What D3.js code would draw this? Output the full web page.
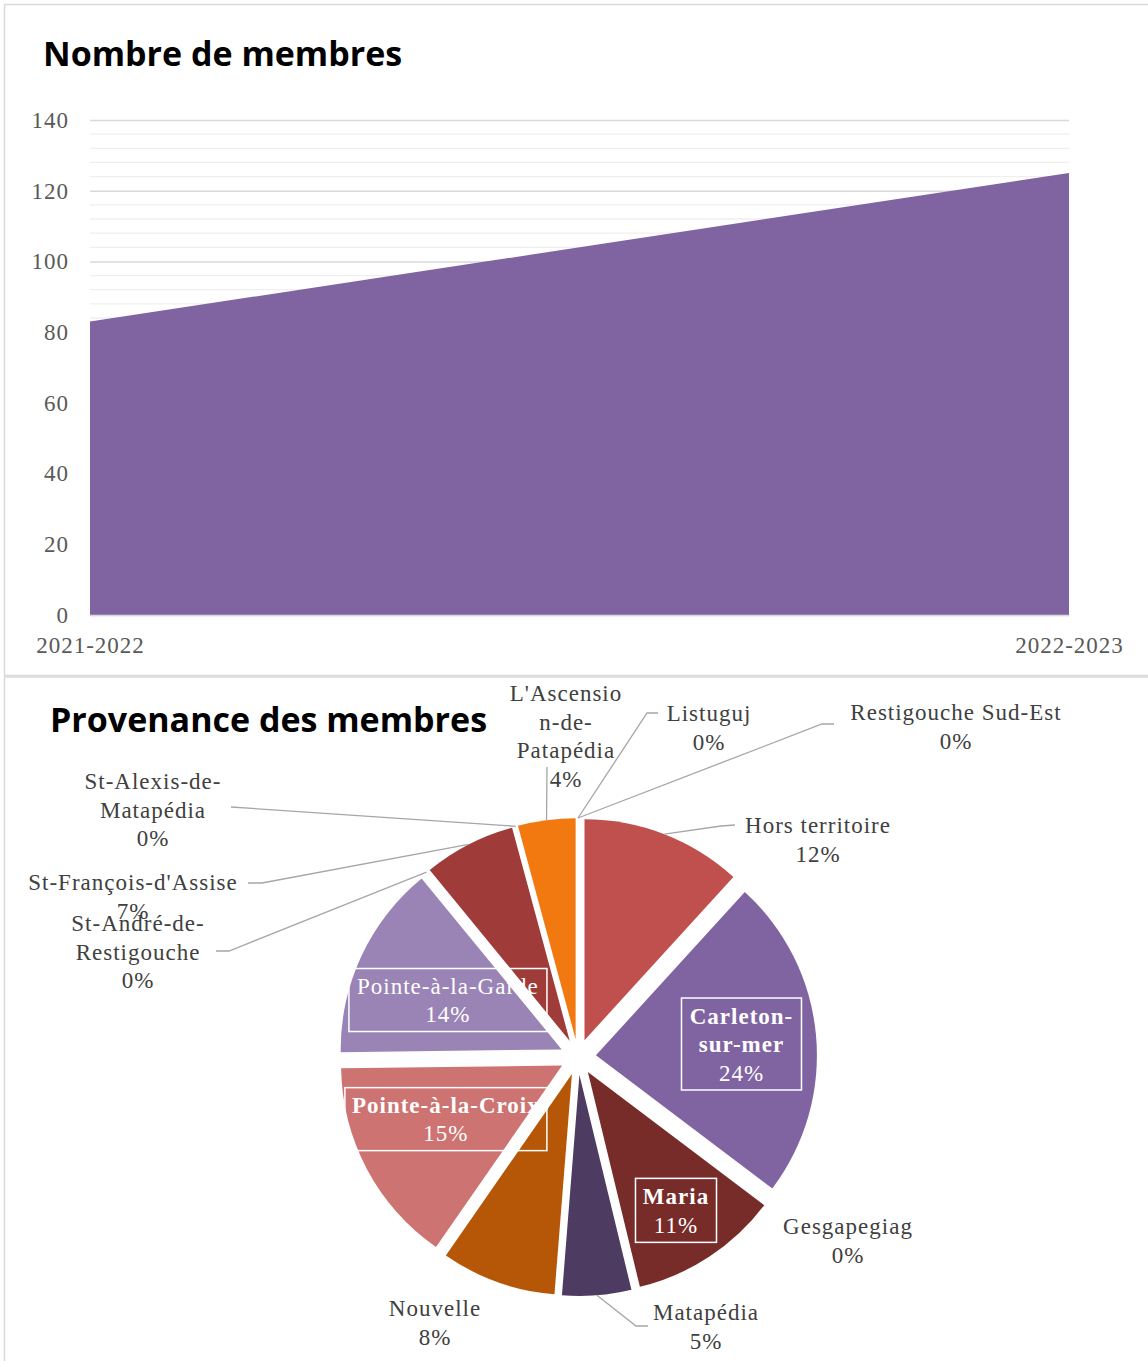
<!DOCTYPE html>
<html><head><meta charset="utf-8">
<script src="https://cdn.jsdelivr.net/npm/d3@7"></script>
<style>
html,body{margin:0;padding:0;background:#fff;}
svg{display:block;}
</style></head>
<body>
<svg id="c" width="1148" height="1361"></svg>
<script>
// ---- Data ----
const years = ["2021-2022", "2022-2023"];
const members = [83, 125];
const yTicks = [0, 20, 40, 60, 80, 100, 120, 140];

const communities = ["Hors territoire", "Carleton-sur-mer", "Gesgapegiag", "Maria", "Matapédia",
  "Nouvelle", "Pointe-à-la-Croix", "Pointe-à-la-Garde", "St-André-de-Restigouche",
  "St-François-d'Assise", "St-Alexis-de-Matapédia", "L'Ascension-de-Patapédia", "Listuguj", "Restigouche Sud-Est"];
const counts = [14, 28, 0, 13, 6, 10, 18, 17, 0, 8, 0, 5, 0, 0];
const sliceColors = ["#c0504d", "#8064a2", "#4f81bd", "#772c2a", "#4d3b62", "#b65708", "#cd7371",
  "#9a84b6", "#9bbb59", "#9f3b38", "#4bacc6", "#f2790f", "#f79646", "#2c4d75"];

const svg = d3.select("#c");
const serif = "'Liberation Serif', 'DejaVu Serif', serif";
const sans = "'Open Sans', 'DejaVu Sans', sans-serif";
const FS = 23, LS = 1;

// panel borders
svg.append("rect").attr("x", 4.5).attr("y", 4.5).attr("width", 1160).attr("height", 671)
  .attr("fill", "none").attr("stroke", "#d9d9d9").attr("stroke-width", 1.5);
svg.append("rect").attr("x", 4.5).attr("y", 677).attr("width", 1160).attr("height", 700)
  .attr("fill", "none").attr("stroke", "#d9d9d9").attr("stroke-width", 1.5);

// ---- Area chart ----
const x = d3.scalePoint().domain(years).range([90, 1069]);
const y = d3.scaleLinear().domain([0, 140]).range([615, 120]);

svg.append("text").attr("x", 43).attr("y", 66).text("Nombre de membres")
  .attr("font-family", sans).attr("font-weight", 700).attr("font-size", 34).attr("fill", "#000");

const minor = d3.range(0, 141, 4).filter(v => v % 20 !== 0);
svg.append("g").selectAll("line").data(minor).join("line")
  .attr("x1", 90).attr("x2", 1069).attr("y1", d => y(d)).attr("y2", d => y(d))
  .attr("stroke", "#efefef").attr("stroke-width", 1.3);

const yAxis = svg.append("g").attr("transform", "translate(90,0)")
  .call(d3.axisLeft(y).tickValues(yTicks).tickSize(-979).tickPadding(21));
yAxis.select(".domain").remove();
yAxis.selectAll(".tick line").attr("stroke", "#d9d9d9").attr("stroke-width", 1.5);
yAxis.selectAll(".tick text").attr("font-family", serif).attr("font-size", FS)
  .attr("letter-spacing", LS).attr("fill", "#595959");

const area = d3.area().x((d, i) => x(years[i])).y0(y(0)).y1(d => y(d));
svg.append("path").datum(members).attr("d", area).attr("fill", "#8064a2");

const xAxis = svg.append("g").attr("transform", `translate(0,${y(0)})`)
  .call(d3.axisBottom(x).tickSize(0).tickPadding(22));
xAxis.select(".domain").attr("stroke", "#d9d9d9").attr("stroke-width", 1.5);
xAxis.selectAll(".tick text").attr("font-family", serif).attr("font-size", FS)
  .attr("letter-spacing", LS).attr("fill", "#595959");

// ---- Pie chart ----
svg.append("text").attr("x", 50).attr("y", 732).text("Provenance des membres")
  .attr("font-family", sans).attr("font-weight", 700).attr("font-size", 34).attr("fill", "#000");

const cx = 578, cy = 1057, R = 221, explode = 18;
const total = d3.sum(counts);
const pct = v => Math.round(v / total * 100) + "%";
const pie = d3.pie().sort(null).value(d => d).startAngle(0).endAngle(2 * Math.PI);
const arcs = pie(counts);
const arc = d3.arc().innerRadius(0).outerRadius(R);
const mid = a => (a.startAngle + a.endAngle) / 2;
const pt = (ang, r) => [cx + r * Math.sin(ang), cy - r * Math.cos(ang)];
const deg = Math.PI / 180;

const g = svg.append("g");
g.selectAll("path").data(arcs.filter(a => a.value > 0)).join("path")
  .attr("d", arc)
  .attr("fill", d => sliceColors[d.index])
  .attr("transform", d => { const p = pt(mid(d), explode); return `translate(${p[0]},${p[1]})`; });

// label layout (annotation placement); "%" line is appended from the data
const inside = {
  "Carleton-sur-mer": {r: 164, da: 0.75, lines: [["Carleton-", 700], ["sur-mer", 700]], box: [120, 92]},
  "Maria": {r: 182, da: 0.7, lines: [["Maria", 700]], box: [81, 64]},
  "Pointe-à-la-Croix": {r: 146, da: 2.8, lines: [["Pointe-à-la-Croix", 700]], box: [202, 63]},
  "Pointe-à-la-Garde": {r: 142, da: -1.3, lines: [["Pointe-à-la-Garde", 400]], box: [198, 63]}
};
const outside = {
  "L'Ascension-de-Patapédia": {tx: 566, ty: 693, lines: ["L'Ascensio", "n-de-", "Patapédia"], elbow: [[547, 767]]},
  "Listuguj": {tx: 709, ty: 713, lines: ["Listuguj"], elbow: [[658, 713], [647, 713]]},
  "Restigouche Sud-Est": {tx: 956, ty: 712, lines: ["Restigouche Sud-Est"], elbow: [[834, 724], [822, 724]]},
  "Hors territoire": {tx: 818, ty: 825, lines: ["Hors territoire"], elbow: [[735, 825], [721, 826]]},
  "Gesgapegiag": {tx: 848, ty: 1226, lines: ["Gesgapegiag"], elbow: null},
  "Matapédia": {tx: 706, ty: 1312, lines: ["Matapédia"], elbow: [[648, 1326], [636, 1326]]},
  "Nouvelle": {tx: 435, ty: 1308, lines: ["Nouvelle"], elbow: null},
  "St-Alexis-de-Matapédia": {tx: 153, ty: 781, lines: ["St-Alexis-de-", "Matapédia"], elbow: [[231, 807]]},
  "St-François-d'Assise": {tx: 133, ty: 882, lines: ["St-François-d'Assise"], elbow: [[248, 883], [262, 883]]},
  "St-André-de-Restigouche": {tx: 138, ty: 923, lines: ["St-André-de-", "Restigouche"], elbow: [[216, 951], [229, 951]]}
};

const lineH = 28.5;
const lab = svg.append("g");
arcs.forEach(a => {
  const name = communities[a.index];
  if (inside[name]) {
    const L = inside[name];
    const lines = L.lines.concat([[pct(a.value), 400]]);
    const p = pt(mid(a) + L.da * deg, L.r);
    const n = lines.length;
    lab.append("rect").attr("x", p[0] - L.box[0] / 2).attr("y", p[1] - L.box[1] / 2)
      .attr("width", L.box[0]).attr("height", L.box[1])
      .attr("fill", "none").attr("stroke", "#fff").attr("stroke-width", 1.5);
    lines.forEach((ln, i) => {
      lab.append("text").attr("x", p[0]).attr("y", p[1] + (i - (n - 1) / 2) * lineH)
        .attr("dy", "0.35em").attr("text-anchor", "middle").text(ln[0])
        .attr("font-family", serif).attr("font-size", FS).attr("letter-spacing", LS)
        .attr("font-weight", ln[1]).attr("fill", "#fff");
    });
  } else if (outside[name]) {
    const L = outside[name];
    const lines = L.lines.concat([pct(a.value)]);
    if (L.elbow) {
      const end = pt(mid(a), R + explode);
      const pts = L.elbow.concat([end]);
      lab.append("path").attr("d", d3.line()(pts)).attr("fill", "none")
        .attr("stroke", "#a6a6a6").attr("stroke-width", 1.3);
    }
    lines.forEach((t, i) => {
      lab.append("text").attr("x", L.tx).attr("y", L.ty + i * lineH)
        .attr("dy", "0.35em").attr("text-anchor", "middle").text(t)
        .attr("font-family", serif).attr("font-size", FS).attr("letter-spacing", LS).attr("fill", "#404040");
    });
  }
});
</script>
</body></html>
